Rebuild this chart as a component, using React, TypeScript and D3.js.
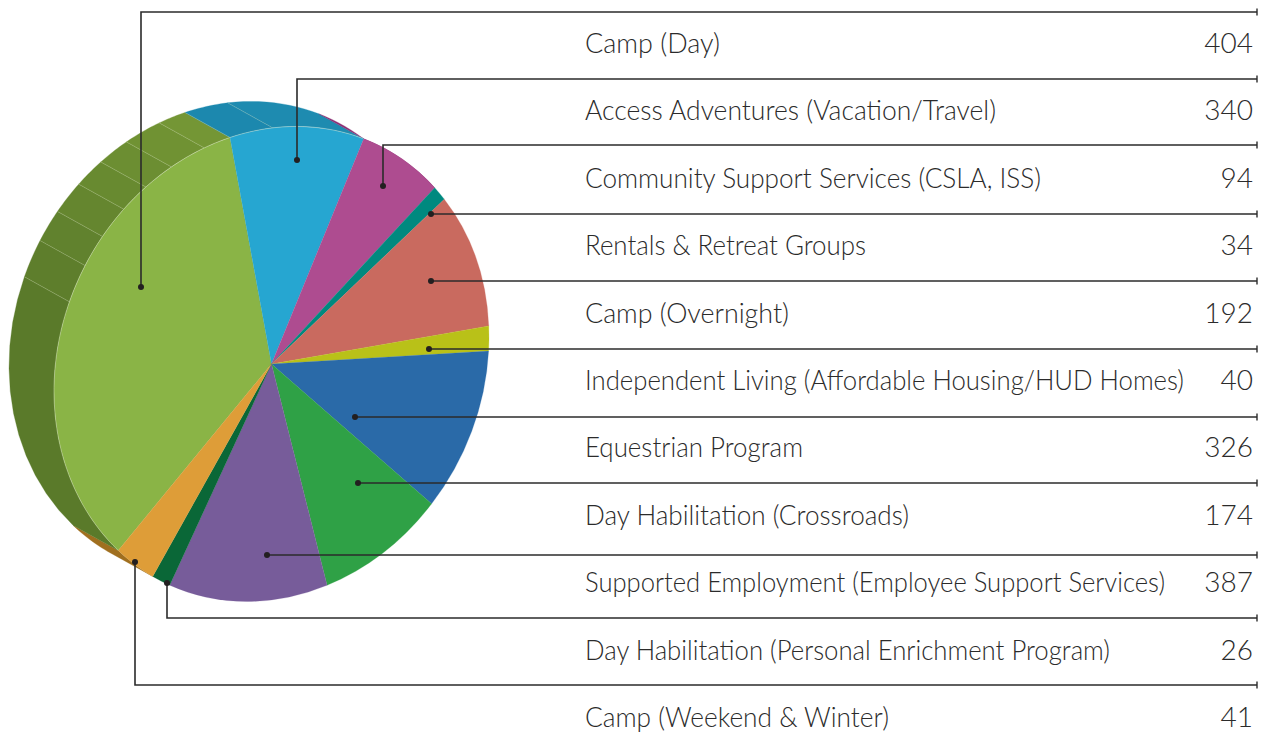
import React from 'react'
import * as d3 from 'd3'

// rows of the table, top to bottom
const programs = [
  'Camp (Day)',
  'Access Adventures (Vacation/Travel)',
  'Community Support Services (CSLA, ISS)',
  'Rentals & Retreat Groups',
  'Camp (Overnight)',
  'Independent Living (Affordable Housing/HUD Homes)',
  'Equestrian Program',
  'Day Habilitation (Crossroads)',
  'Supported Employment (Employee Support Services)',
  'Day Habilitation (Personal Enrichment Program)',
  'Camp (Weekend & Winter)',
]
const counts = [404, 340, 94, 34, 192, 40, 326, 174, 387, 26, 41]

// the slices in the picture do not follow the counts, so these are read off the pie (degrees)
const sliceDegrees = [124.2, 36.1, 23.5, 4, 34.7, 6.1, 39.2, 32.6, 42.7, 5.2, 11.7]
const sliceColors = ['#8ab446', '#26a6d1', '#ae4c90', '#00897f', '#c96a5f', '#b9c118', '#2a6aa8', '#2fa146', '#775c9a', '#0a6737', '#de9d38']

// facets of the side wall: edges in degrees, one colour per facet
const wallEdges = [213.1, 224.8, 291.7, 301, 309, 317.2, 324.7, 332.6, 342, 349, 360.3, 385.1, 408.6]
const wallColors = ['#a06f1f', '#5a7a2a', '#5e7e2c', '#61822e', '#65862f', '#688a30', '#6c8e32', '#709233', '#749635', '#1c88ae', '#1e8bb0', '#8c2f74']

// leader lines: row height on the right and the dot inside the slice
const leaderY = [12, 79, 145, 214, 281, 349, 417, 483, 555, 618, 685]
const dotX = [141, 297, 383, 431, 431, 429, 355, 358, 267, 167, 135]
const dotY = [287, 160, 186, 214, 281, 349, 417, 483, 555, 583, 562]

// label widths measured on the picture, the typeface there is narrower than Lato
const labelWidths = [135, 411, 456, 281, 204, 599, 218, 324, 580, 525, 304]

const width = 1267
const height = 734
const cx = 271.5
const cy = 364
const rx = 217.5
const skew = -27
const ry = 236
const depth = { x: -45, y: -25 }
const lineEnd = 1257

const fontFamily = 'Lato, "Open Sans", sans-serif'
const ink = '#2b2b2b'

// the unit circle leaned over into the ellipse of the pie top
const project = (deg: number, dx = 0, dy = 0): [number, number] => {
  const a = (deg * Math.PI) / 180
  const ux = Math.sin(a)
  const uy = -Math.cos(a)
  return [cx + dx + rx * ux, cy + dy + skew * ux + ry * uy]
}

const line = d3.line()

const wallPath = (from: number, to: number) => {
  const steps = d3.range(0, 13).map((i) => from + ((to - from) * i) / 12)
  const front = steps.map((d) => project(d))
  const back = steps.slice().reverse().map((d) => project(d, depth.x, depth.y))
  return line([...front, ...back]) + 'Z'
}

const rimPath = () => line(d3.range(224.8, 385.2, 2).map((d) => project(d)))

const App = () => {
  const pie = d3
    .pie<number>()
    .value((d) => d)
    .sort(null)
    .startAngle((-135.2 * Math.PI) / 180)
    .endAngle((224.8 * Math.PI) / 180)

  const arc = d3.arc<d3.PieArcDatum<number>>().innerRadius(0).outerRadius(100)
  const slices = pie(sliceDegrees)

  const rowY = d3.scaleLinear().domain([0, programs.length - 1]).range([53, 727])

  return (
    <svg
      width={width}
      height={height}
      viewBox={`0 0 ${width} ${height}`}
      style={{ position: 'absolute', left: 0, top: 0, background: '#fff' }}
    >
      {/* side wall */}
      <g>
        {wallColors.map((c, i) => (
          <path key={i} d={wallPath(wallEdges[i], wallEdges[i + 1])} fill={c} stroke={c} strokeWidth={0.3} />
        ))}
        {wallEdges.slice(2, 11).map((d, i) => {
          const a = project(d)
          const b = project(d, depth.x, depth.y)
          return <line key={i} x1={a[0]} y1={a[1]} x2={b[0]} y2={b[1]} stroke="#cfdcb4" strokeOpacity={0.45} strokeWidth={0.6} />
        })}
      </g>

      {/* top of the pie */}
      <g transform={`matrix(${rx / 100},${skew / 100},0,${ry / 100},${cx},${cy})`}>
        {slices.map((s, i) => (
          <path key={i} d={arc(s) as string} fill={sliceColors[i]} stroke={sliceColors[i]} strokeWidth={0.1} />
        ))}
      </g>
      <path d={rimPath() as string} fill="none" stroke="#dfe8cc" strokeOpacity={0.6} strokeWidth={0.7} />

      {/* leaders */}
      <g fill="none" stroke={ink} strokeWidth={1.6}>
        {leaderY.map((y, i) => (
          <g key={i}>
            <path d={line([[dotX[i], dotY[i]], [dotX[i], y], [lineEnd, y]]) as string} />
            <line x1={lineEnd} x2={lineEnd} y1={y - 3.5} y2={y + 3.5} strokeWidth={1.4} />
          </g>
        ))}
      </g>
      <g fill="#231f20">
        {dotX.map((x, i) => (
          <circle key={i} cx={x} cy={dotY[i]} r={3} />
        ))}
      </g>

      {/* table text */}
      <g fontFamily={fontFamily} fontWeight={300} fontSize={27} fill={ink}>
        {programs.map((p, i) => (
          <text key={p} x={585} y={rowY(i)} textLength={labelWidths[i]} lengthAdjust="spacingAndGlyphs">
            {p}
          </text>
        ))}
        {counts.map((c, i) => (
          <text key={i} x={1253} y={rowY(i)} textAnchor="end" fontSize={28}>
            {c}
          </text>
        ))}
      </g>
    </svg>
  )
}

export default App
